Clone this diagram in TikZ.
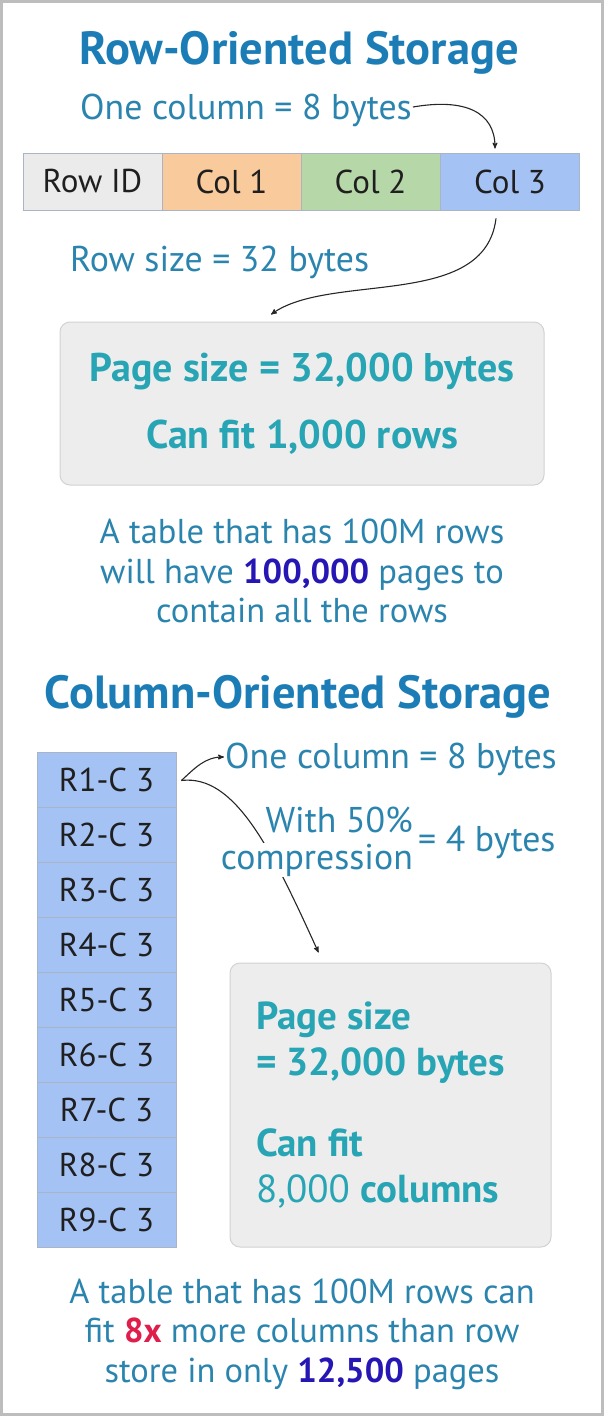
\documentclass[tikz,border=0pt]{standalone}
\usepackage{fontspec}
\setmainfont{PT Sans}
\usetikzlibrary{arrows}

\definecolor{framegray}{HTML}{BDBDBD}
\definecolor{titleblue}{HTML}{1C7DB6}
\definecolor{textblue}{HTML}{2A84AE}
\definecolor{pageteal}{HTML}{27A5B4}
\definecolor{numblue}{HTML}{2616B4}
\definecolor{hotred}{HTML}{E01E4C}
\definecolor{idgray}{HTML}{EBEBEB}
\definecolor{colorange}{HTML}{F9CB9C}
\definecolor{colgreen}{HTML}{B6D7A8}
\definecolor{colblue}{HTML}{A4C2F4}
\definecolor{cellline}{HTML}{A9B4C4}
\definecolor{boxgray}{HTML}{EDEDED}
\definecolor{boxline}{HTML}{D2D2D2}

\begin{document}
\begin{tikzpicture}[x=1pt,y=-1pt,
  title/.style={font=\fontsize{46.5}{52}\selectfont\bfseries, text=titleblue, inner sep=0pt},
  lbl/.style={font=\fontsize{35.8}{42}\selectfont, text=textblue, inner sep=1pt},
  cell/.style={draw=cellline, line width=0.8pt, minimum width=139pt, inner sep=0pt,
    font=\fontsize{33}{38}\selectfont, text=black!88},
  pagebox/.style={draw=boxline, fill=boxgray, rounded corners=10pt, line width=1pt},
  note/.style={font=\fontsize{34.5}{39.5}\selectfont, text=textblue, align=center, inner sep=0pt},
  arr/.style={-stealth', line width=1.1pt, black!85}]

\useasboundingbox (0,0) rectangle (604,1416);
\draw[framegray, line width=3pt] (1.5,1.5) rectangle (602.5,1414.5);

% row store
\node[title] (rowtitle) at (299,53) {Row-Oriented Storage};
\node[lbl, anchor=west] (onecol) at (79,110) {One column = 8 bytes};
\node[cell, fill=idgray, minimum height=57pt] (rowid) at (92.5,181.5) {Row ID};
\node[cell, fill=colorange, minimum height=57pt] (col1) at (231.5,181.5) {Col 1};
\node[cell, fill=colgreen, minimum height=57pt] (col2) at (370.5,181.5) {Col 2};
\node[cell, fill=colblue, minimum height=57pt] (col3) at (510,181.5) {Col 3};
\node[lbl, anchor=west] (rowsize) at (69,262) {Row size = 32 bytes};
\node[pagebox, minimum width=484pt, minimum height=163pt, align=center,
  font=\fontsize{40}{67}\selectfont\bfseries, text=pageteal] (page1) at (302,403.5)
  {Page size = 32,000 bytes\\Can fit 1,000 rows};
\draw[arr] ([yshift=3pt]onecol.east) .. controls (465,98) and (495,112) .. ([xshift=-15pt,yshift=4pt]col3.north);
\draw[arr] ([xshift=-14pt,yshift=-8pt]col3.south) .. controls (485,310) and (330,272) .. ([xshift=-31pt,yshift=7pt]page1.north);
\node[note] (rownote) at (302,571) {A table that has 100M rows\\will have {\bfseries\color{numblue}100,000} pages to\\contain all the rows};

% column store
\node[title] (coltitle) at (298,697) {Column-Oriented Storage};
\node[cell, fill=colblue, minimum height=55pt] (r1) at (106.5,779.5) {R1-C 3};
\node[cell, fill=colblue, minimum height=55pt] (r2) at (106.5,834.5) {R2-C 3};
\node[cell, fill=colblue, minimum height=55pt] (r3) at (106.5,889.5) {R3-C 3};
\node[cell, fill=colblue, minimum height=55pt] (r4) at (106.5,944.5) {R4-C 3};
\node[cell, fill=colblue, minimum height=55pt] (r5) at (106.5,999.5) {R5-C 3};
\node[cell, fill=colblue, minimum height=55pt] (r6) at (106.5,1054.5) {R6-C 3};
\node[cell, fill=colblue, minimum height=55pt] (r7) at (106.5,1109.5) {R7-C 3};
\node[cell, fill=colblue, minimum height=55pt] (r8) at (106.5,1164.5) {R8-C 3};
\node[cell, fill=colblue, minimum height=55pt] (r9) at (106.5,1219.5) {R9-C 3};
\node[lbl, anchor=west] (onecol2) at (224,759) {One column = 8 bytes};
\node[lbl, anchor=east] (with50) at (414,820) {With 50\%};
\node[lbl, anchor=west] (fourb) at (417,842) {= 4 bytes};
\node[pagebox, minimum width=321pt, minimum height=284pt] (page2) at (390.5,1105) {};
\draw[arr] ([xshift=5pt,yshift=-1pt]r1.east) .. controls (195,768) and (205,757) .. ([yshift=2pt]onecol2.west);
\draw[arr] ([xshift=5pt,yshift=-1pt]r1.east) .. controls (235,774) and (272,850) .. ([xshift=-72pt,yshift=10pt]page2.north);
\node[lbl, anchor=east, fill=white] (compr) at (414,860) {compression};
\node[anchor=west, align=left, inner sep=0pt, font=\fontsize{39}{46}\selectfont,
  text=pageteal] (page2txt) at (256,1105)
  {\bfseries Page size\\\bfseries = 32,000 bytes\\[35pt]\bfseries Can fit\\8,000 {\bfseries columns}};
\node[note] (colnote) at (302,1334) {A table that has 100M rows can\\fit {\bfseries\color{hotred}8x} more columns than row\\store in only {\bfseries\color{numblue}12,500} pages};
\end{tikzpicture}
\end{document}
